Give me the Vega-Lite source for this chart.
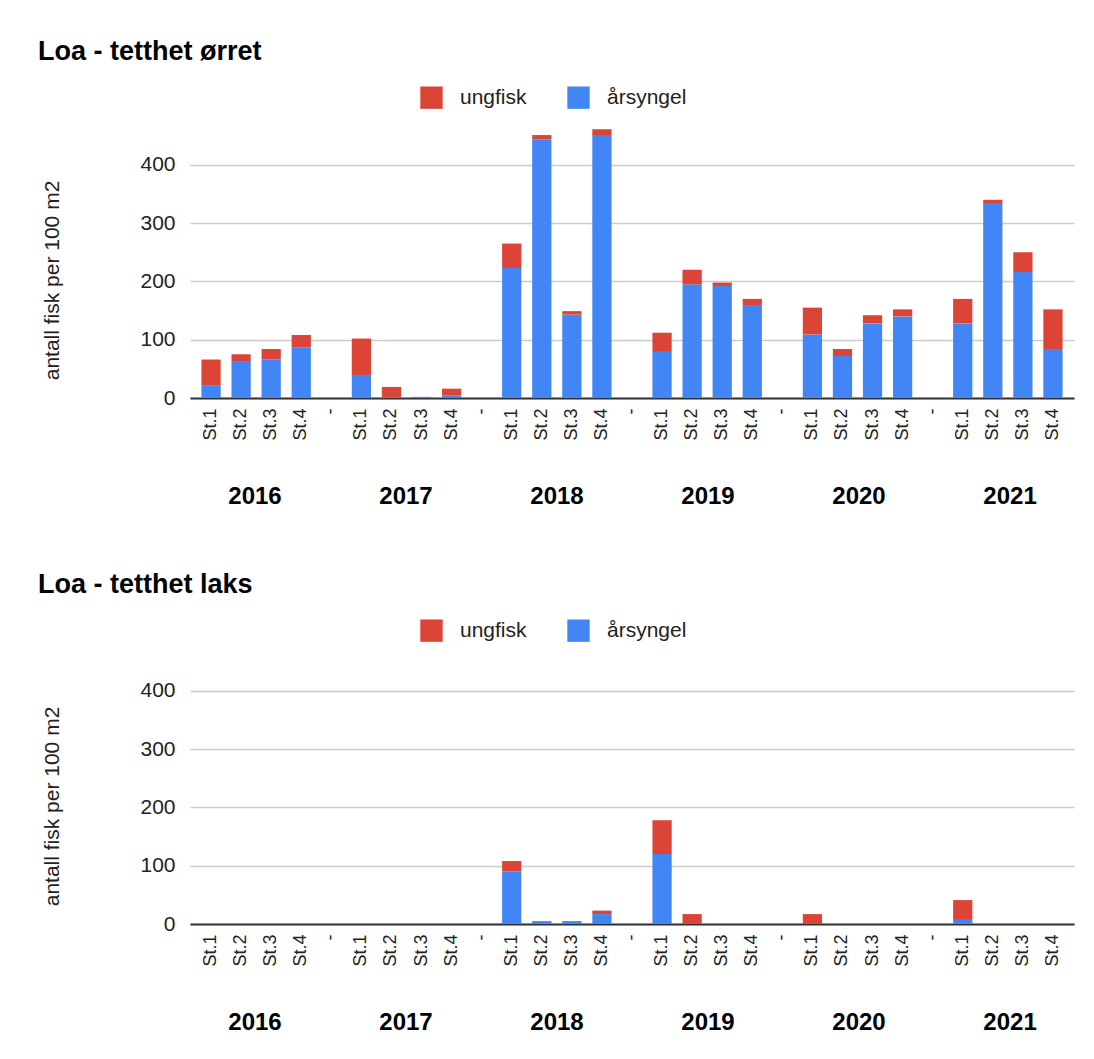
{
  "$schema": "https://vega.github.io/schema/vega-lite/v6.json",
  "background": "white",
  "autosize": {"type": "pad"},
  "padding": {"left": 37, "top": 38, "right": 10, "bottom": 5},
  "config": {"font": "Liberation Sans", "view": {"stroke": null}},
  "datasets": {
    "aar": [{"aar": "2016"}, {"aar": "2017"}, {"aar": "2018"}, {"aar": "2019"}, {"aar": "2020"}, {"aar": "2021"}],
    "orret": [
      {"kolonne": "2016|St.1", "gruppe": "årsyngel", "antall": 22}, {"kolonne": "2016|St.1", "gruppe": "ungfisk", "antall": 44},
      {"kolonne": "2016|St.2", "gruppe": "årsyngel", "antall": 62}, {"kolonne": "2016|St.2", "gruppe": "ungfisk", "antall": 13},
      {"kolonne": "2016|St.3", "gruppe": "årsyngel", "antall": 66}, {"kolonne": "2016|St.3", "gruppe": "ungfisk", "antall": 18},
      {"kolonne": "2016|St.4", "gruppe": "årsyngel", "antall": 87}, {"kolonne": "2016|St.4", "gruppe": "ungfisk", "antall": 21},
      {"kolonne": "2017|St.1", "gruppe": "årsyngel", "antall": 38}, {"kolonne": "2017|St.1", "gruppe": "ungfisk", "antall": 64},
      {"kolonne": "2017|St.2", "gruppe": "årsyngel", "antall": 1}, {"kolonne": "2017|St.2", "gruppe": "ungfisk", "antall": 18},
      {"kolonne": "2017|St.3", "gruppe": "årsyngel", "antall": 2}, {"kolonne": "2017|St.3", "gruppe": "ungfisk", "antall": 0},
      {"kolonne": "2017|St.4", "gruppe": "årsyngel", "antall": 4}, {"kolonne": "2017|St.4", "gruppe": "ungfisk", "antall": 12},
      {"kolonne": "2018|St.1", "gruppe": "årsyngel", "antall": 223}, {"kolonne": "2018|St.1", "gruppe": "ungfisk", "antall": 42},
      {"kolonne": "2018|St.2", "gruppe": "årsyngel", "antall": 444}, {"kolonne": "2018|St.2", "gruppe": "ungfisk", "antall": 7},
      {"kolonne": "2018|St.3", "gruppe": "årsyngel", "antall": 143}, {"kolonne": "2018|St.3", "gruppe": "ungfisk", "antall": 6},
      {"kolonne": "2018|St.4", "gruppe": "årsyngel", "antall": 451}, {"kolonne": "2018|St.4", "gruppe": "ungfisk", "antall": 10},
      {"kolonne": "2019|St.1", "gruppe": "årsyngel", "antall": 79}, {"kolonne": "2019|St.1", "gruppe": "ungfisk", "antall": 33},
      {"kolonne": "2019|St.2", "gruppe": "årsyngel", "antall": 195}, {"kolonne": "2019|St.2", "gruppe": "ungfisk", "antall": 25},
      {"kolonne": "2019|St.3", "gruppe": "årsyngel", "antall": 192}, {"kolonne": "2019|St.3", "gruppe": "ungfisk", "antall": 6},
      {"kolonne": "2019|St.4", "gruppe": "årsyngel", "antall": 158}, {"kolonne": "2019|St.4", "gruppe": "ungfisk", "antall": 12},
      {"kolonne": "2020|St.1", "gruppe": "årsyngel", "antall": 109}, {"kolonne": "2020|St.1", "gruppe": "ungfisk", "antall": 46},
      {"kolonne": "2020|St.2", "gruppe": "årsyngel", "antall": 72}, {"kolonne": "2020|St.2", "gruppe": "ungfisk", "antall": 12},
      {"kolonne": "2020|St.3", "gruppe": "årsyngel", "antall": 128}, {"kolonne": "2020|St.3", "gruppe": "ungfisk", "antall": 14},
      {"kolonne": "2020|St.4", "gruppe": "årsyngel", "antall": 140}, {"kolonne": "2020|St.4", "gruppe": "ungfisk", "antall": 12},
      {"kolonne": "2021|St.1", "gruppe": "årsyngel", "antall": 128}, {"kolonne": "2021|St.1", "gruppe": "ungfisk", "antall": 42},
      {"kolonne": "2021|St.2", "gruppe": "årsyngel", "antall": 333}, {"kolonne": "2021|St.2", "gruppe": "ungfisk", "antall": 7},
      {"kolonne": "2021|St.3", "gruppe": "årsyngel", "antall": 216}, {"kolonne": "2021|St.3", "gruppe": "ungfisk", "antall": 34},
      {"kolonne": "2021|St.4", "gruppe": "årsyngel", "antall": 84}, {"kolonne": "2021|St.4", "gruppe": "ungfisk", "antall": 68}
    ],
    "laks": [
      {"kolonne": "2016|St.1", "gruppe": "årsyngel", "antall": 0}, {"kolonne": "2016|St.1", "gruppe": "ungfisk", "antall": 0},
      {"kolonne": "2016|St.2", "gruppe": "årsyngel", "antall": 0}, {"kolonne": "2016|St.2", "gruppe": "ungfisk", "antall": 0},
      {"kolonne": "2016|St.3", "gruppe": "årsyngel", "antall": 0}, {"kolonne": "2016|St.3", "gruppe": "ungfisk", "antall": 0},
      {"kolonne": "2016|St.4", "gruppe": "årsyngel", "antall": 0}, {"kolonne": "2016|St.4", "gruppe": "ungfisk", "antall": 0},
      {"kolonne": "2017|St.1", "gruppe": "årsyngel", "antall": 0}, {"kolonne": "2017|St.1", "gruppe": "ungfisk", "antall": 0},
      {"kolonne": "2017|St.2", "gruppe": "årsyngel", "antall": 0}, {"kolonne": "2017|St.2", "gruppe": "ungfisk", "antall": 0},
      {"kolonne": "2017|St.3", "gruppe": "årsyngel", "antall": 0}, {"kolonne": "2017|St.3", "gruppe": "ungfisk", "antall": 0},
      {"kolonne": "2017|St.4", "gruppe": "årsyngel", "antall": 0}, {"kolonne": "2017|St.4", "gruppe": "ungfisk", "antall": 0},
      {"kolonne": "2018|St.1", "gruppe": "årsyngel", "antall": 90}, {"kolonne": "2018|St.1", "gruppe": "ungfisk", "antall": 18},
      {"kolonne": "2018|St.2", "gruppe": "årsyngel", "antall": 5}, {"kolonne": "2018|St.2", "gruppe": "ungfisk", "antall": 0},
      {"kolonne": "2018|St.3", "gruppe": "årsyngel", "antall": 5}, {"kolonne": "2018|St.3", "gruppe": "ungfisk", "antall": 0},
      {"kolonne": "2018|St.4", "gruppe": "årsyngel", "antall": 17}, {"kolonne": "2018|St.4", "gruppe": "ungfisk", "antall": 6},
      {"kolonne": "2019|St.1", "gruppe": "årsyngel", "antall": 120}, {"kolonne": "2019|St.1", "gruppe": "ungfisk", "antall": 58},
      {"kolonne": "2019|St.2", "gruppe": "årsyngel", "antall": 0}, {"kolonne": "2019|St.2", "gruppe": "ungfisk", "antall": 17},
      {"kolonne": "2019|St.3", "gruppe": "årsyngel", "antall": 0}, {"kolonne": "2019|St.3", "gruppe": "ungfisk", "antall": 0},
      {"kolonne": "2019|St.4", "gruppe": "årsyngel", "antall": 0}, {"kolonne": "2019|St.4", "gruppe": "ungfisk", "antall": 0},
      {"kolonne": "2020|St.1", "gruppe": "årsyngel", "antall": 0}, {"kolonne": "2020|St.1", "gruppe": "ungfisk", "antall": 17},
      {"kolonne": "2020|St.2", "gruppe": "årsyngel", "antall": 0}, {"kolonne": "2020|St.2", "gruppe": "ungfisk", "antall": 0},
      {"kolonne": "2020|St.3", "gruppe": "årsyngel", "antall": 0}, {"kolonne": "2020|St.3", "gruppe": "ungfisk", "antall": 0},
      {"kolonne": "2020|St.4", "gruppe": "årsyngel", "antall": 0}, {"kolonne": "2020|St.4", "gruppe": "ungfisk", "antall": 0},
      {"kolonne": "2021|St.1", "gruppe": "årsyngel", "antall": 7}, {"kolonne": "2021|St.1", "gruppe": "ungfisk", "antall": 34},
      {"kolonne": "2021|St.2", "gruppe": "årsyngel", "antall": 0}, {"kolonne": "2021|St.2", "gruppe": "ungfisk", "antall": 0},
      {"kolonne": "2021|St.3", "gruppe": "årsyngel", "antall": 0}, {"kolonne": "2021|St.3", "gruppe": "ungfisk", "antall": 0},
      {"kolonne": "2021|St.4", "gruppe": "årsyngel", "antall": 0}, {"kolonne": "2021|St.4", "gruppe": "ungfisk", "antall": 0}
    ]
  },
  "spacing": 63,
  "resolve": {"scale": {"color": "independent"}, "legend": {"color": "independent"}},
  "vconcat": [
    {
      "title": {"text": "Loa - tetthet ørret", "anchor": "start", "fontSize": 27, "fontWeight": "bold", "color": "#000000", "dx": -4, "offset": 20},
      "width": 884,
      "height": 274,
      "resolve": {"scale": {"x": "independent"}, "axis": {"x": "independent"}},
      "layer": [
        {
          "data": {"name": "orret"},
          "mark": {"type": "bar"},
          "encoding": {
            "x": {"field": "kolonne", "type": "nominal",
              "scale": {"domain": ["2016|St.1","2016|St.2","2016|St.3","2016|St.4","2016|-","2017|St.1","2017|St.2","2017|St.3","2017|St.4","2017|-","2018|St.1","2018|St.2","2018|St.3","2018|St.4","2018|-","2019|St.1","2019|St.2","2019|St.3","2019|St.4","2019|-","2020|St.1","2020|St.2","2020|St.3","2020|St.4","2020|-","2021|St.1","2021|St.2","2021|St.3","2021|St.4"], "paddingInner": 0.36, "paddingOuter": 0.38},
              "axis": {"title": null, "labelAngle": -90, "labelAlign": "right", "labelBaseline": "middle", "labelExpr": "split(datum.value, '|')[1]", "labelFontSize": 18, "labelColor": "#222222", "labelPadding": 10, "ticks": false, "domainColor": "#333333", "domainWidth": 2, "grid": false}},
            "y": {"field": "antall", "type": "quantitative", "stack": "zero",
              "scale": {"domain": [0, 470], "nice": false},
              "axis": {"values": [0, 100, 200, 300, 400], "title": "antall fisk per 100 m2", "titleFontSize": 21, "titleFontWeight": "normal", "titleColor": "#222222", "titlePadding": 77, "titleY": 156, "labelFontSize": 21, "labelColor": "#222222", "labelPadding": 15, "ticks": false, "domain": false, "gridColor": "#cccccc", "gridWidth": 1.5}},
            "color": {"field": "gruppe", "type": "nominal",
              "scale": {"domain": ["ungfisk", "årsyngel"], "range": ["#DB4437", "#4285F4"]},
              "legend": {"orient": "none", "legendX": 230, "legendY": -38, "direction": "horizontal", "title": null, "symbolType": "square", "symbolSize": 500, "symbolStrokeWidth": 0, "symbolOpacity": 1, "labelFontSize": 21, "labelColor": "#222222", "labelOffset": 17, "columnPadding": 40}},
            "order": {"field": "gruppe", "sort": "descending"}
          }
        },
        {
          "data": {"name": "aar"},
          "mark": {"type": "text", "text": ""},
          "encoding": {
            "x": {"field": "aar", "type": "ordinal",
              "scale": {"type": "point", "padding": 0.427, "align": 0.5},
              "axis": {"orient": "bottom", "offset": 86, "title": null, "domain": false, "ticks": false, "grid": false, "labelAngle": 0, "labelFontSize": 24, "labelFontWeight": "bold", "labelColor": "#000000", "labelPadding": 0}}
          }
        }
      ]
    },
    {
      "title": {"text": "Loa - tetthet laks", "anchor": "start", "fontSize": 27, "fontWeight": "bold", "color": "#000000", "dx": -4, "offset": 20},
      "width": 884,
      "height": 274,
      "resolve": {"scale": {"x": "independent"}, "axis": {"x": "independent"}},
      "layer": [
        {
          "data": {"name": "laks"},
          "mark": {"type": "bar"},
          "encoding": {
            "x": {"field": "kolonne", "type": "nominal",
              "scale": {"domain": ["2016|St.1","2016|St.2","2016|St.3","2016|St.4","2016|-","2017|St.1","2017|St.2","2017|St.3","2017|St.4","2017|-","2018|St.1","2018|St.2","2018|St.3","2018|St.4","2018|-","2019|St.1","2019|St.2","2019|St.3","2019|St.4","2019|-","2020|St.1","2020|St.2","2020|St.3","2020|St.4","2020|-","2021|St.1","2021|St.2","2021|St.3","2021|St.4"], "paddingInner": 0.36, "paddingOuter": 0.38},
              "axis": {"title": null, "labelAngle": -90, "labelAlign": "right", "labelBaseline": "middle", "labelExpr": "split(datum.value, '|')[1]", "labelFontSize": 18, "labelColor": "#222222", "labelPadding": 10, "ticks": false, "domainColor": "#333333", "domainWidth": 2, "grid": false}},
            "y": {"field": "antall", "type": "quantitative", "stack": "zero",
              "scale": {"domain": [0, 470], "nice": false},
              "axis": {"values": [0, 100, 200, 300, 400], "title": "antall fisk per 100 m2", "titleFontSize": 21, "titleFontWeight": "normal", "titleColor": "#222222", "titlePadding": 77, "titleY": 156, "labelFontSize": 21, "labelColor": "#222222", "labelPadding": 15, "ticks": false, "domain": false, "gridColor": "#cccccc", "gridWidth": 1.5}},
            "color": {"field": "gruppe", "type": "nominal",
              "scale": {"domain": ["ungfisk", "årsyngel"], "range": ["#DB4437", "#4285F4"]},
              "legend": {"orient": "none", "legendX": 230, "legendY": -31, "direction": "horizontal", "title": null, "symbolType": "square", "symbolSize": 500, "symbolStrokeWidth": 0, "symbolOpacity": 1, "labelFontSize": 21, "labelColor": "#222222", "labelOffset": 17, "columnPadding": 40}},
            "order": {"field": "gruppe", "sort": "descending"}
          }
        },
        {
          "data": {"name": "aar"},
          "mark": {"type": "text", "text": ""},
          "encoding": {
            "x": {"field": "aar", "type": "ordinal",
              "scale": {"type": "point", "padding": 0.427, "align": 0.5},
              "axis": {"orient": "bottom", "offset": 86, "title": null, "domain": false, "ticks": false, "grid": false, "labelAngle": 0, "labelFontSize": 24, "labelFontWeight": "bold", "labelColor": "#000000", "labelPadding": 0}}
          }
        }
      ]
    }
  ]
}
